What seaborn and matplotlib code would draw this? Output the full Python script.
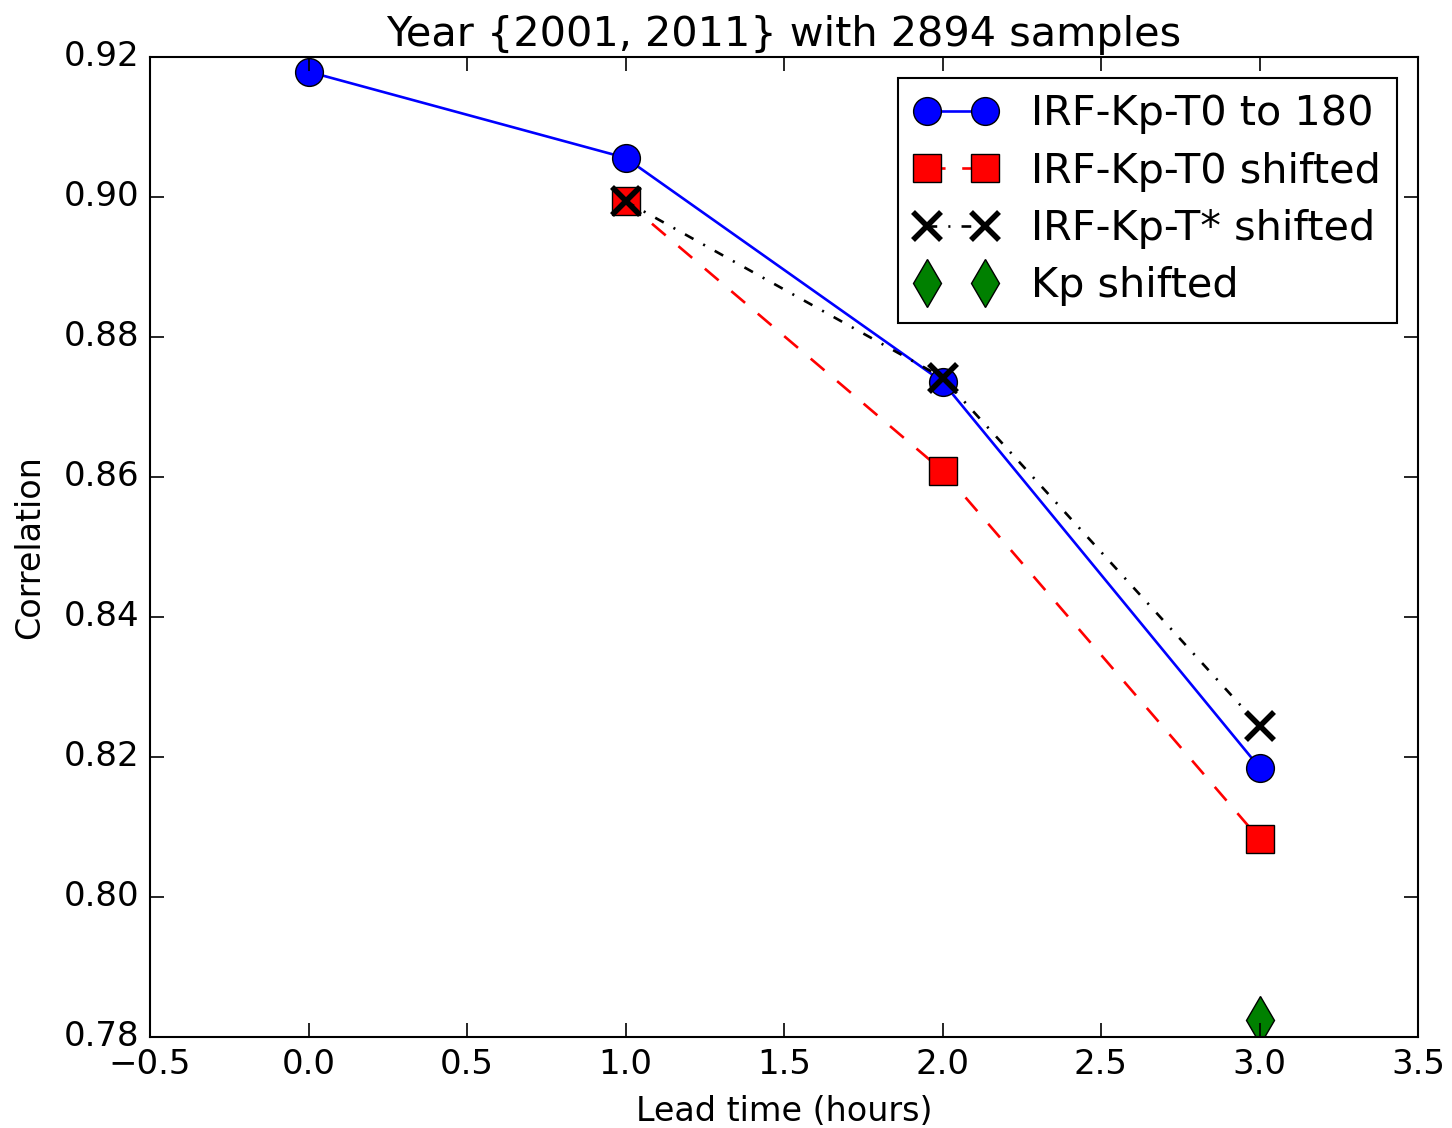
import matplotlib
matplotlib.use("Agg")
import matplotlib.pyplot as plt
import seaborn as sns
import numpy as np

plt.style.use("classic")

lead_blue = [0, 1, 2, 3]
corr_blue = [0.9179, 0.9056, 0.8736, 0.8185]
lead_red = [1, 2, 3]
corr_red = [0.8994, 0.8609, 0.8083]
lead_black = [1, 2, 3]
corr_black = [0.8994, 0.8742, 0.8244]
lead_green = [3]
corr_green = [0.7825]

labels = ["IRF-Kp-T0 to 180", "IRF-Kp-T0 shifted", "IRF-Kp-T* shifted", "Kp shifted"]
title = "Year {2001, 2011} with 2894 samples"

plt.rcParams["font.family"] = ["DejaVu Sans"]
plt.rcParams["axes.unicode_minus"] = True
plt.rcParams["lines.scale_dashes"] = False

fig = plt.figure(figsize=(14.52, 11.28), dpi=100, facecolor="white")
ax = fig.add_axes([150/1452, 1-1037/1128, (1418-150)/1452, (1037-57)/1128])

ms = 20
lw = 1.9
sns.lineplot(x=lead_blue, y=corr_blue, ax=ax, color="blue", linestyle="-", lw=lw,
             marker="o", markersize=ms, markeredgecolor="k", markeredgewidth=1.0,
             label=labels[0])
sns.lineplot(x=lead_red, y=corr_red, ax=ax, color="red", lw=lw,
             marker="s", markersize=ms, markeredgecolor="k", markeredgewidth=1.0,
             label=labels[1])
sns.lineplot(x=lead_black, y=corr_black, ax=ax, color="black", lw=lw,
             marker="x", markersize=ms, markeredgecolor="k", markeredgewidth=4,
             label=labels[2])
sns.lineplot(x=lead_green, y=corr_green, ax=ax, color="green",
             marker="d", markersize=ms + 4, markeredgecolor="k", markeredgewidth=1.0,
             label=labels[3])

lines = ax.get_lines()
lines[1].set_linestyle((0, (13, 12)))
lines[2].set_linestyle((0, (7, 8, 1.5, 8)))
lines[3].set_linestyle("none")

ax.set_xlim(-0.5, 3.5)
ax.set_ylim(0.78, 0.92)
ax.set_xticks(np.arange(-0.5, 3.51, 0.5))
ax.set_yticks(np.arange(0.78, 0.9201, 0.02))
ax.set_xticklabels([f"{v:.1f}".replace("-", "\u2212") for v in np.arange(-0.5, 3.51, 0.5)])
ax.set_yticklabels([f"{v:.2f}" for v in np.arange(0.78, 0.9201, 0.02)])
ax.tick_params(axis="both", which="major", direction="in", length=10, width=1.2,
               labelsize=24.5, top=True, right=True, pad=8)
for s in ax.spines.values():
    s.set_linewidth(1.5)

ax.set_xlabel("Lead time (hours)", fontsize=24, labelpad=10)
ax.set_ylabel("Correlation", fontsize=24, labelpad=12)
ax.set_title(title, fontsize=29.8, pad=8)

leg = ax.legend(loc="upper right", numpoints=2, fontsize=29.8, frameon=True,
                fancybox=False, borderaxespad=0.5, handlelength=2.0,
                labelspacing=0.42, borderpad=0.4)
leg.get_frame().set_edgecolor("black")
leg.get_frame().set_linewidth(1.5)

fig.savefig("out.png", dpi=100, facecolor="white")
